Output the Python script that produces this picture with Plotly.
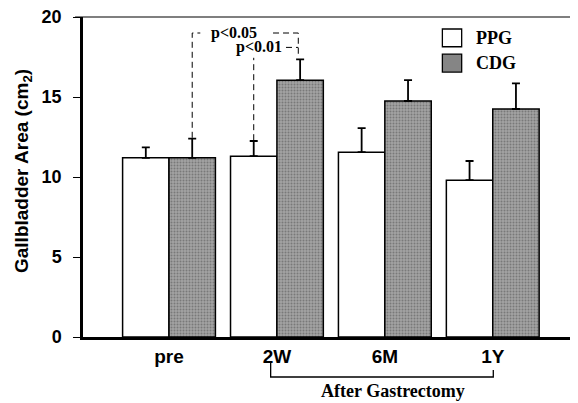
import plotly.graph_objects as go

categories = ["pre", "2W", "6M", "1Y"]
ppg_values = [11.2, 11.3, 11.55, 9.8]
ppg_err = [0.65, 0.95, 1.5, 1.2]
cdg_values = [11.2, 16.05, 14.75, 14.25]
cdg_err = [1.2, 1.3, 1.3, 1.6]
x_pos = [0, 1, 2, 3]

SANS = "Liberation Sans, Arial, sans-serif"
SERIF = "Liberation Serif, Times New Roman, serif"

fig = go.Figure()
fig.add_trace(go.Bar(
    x=x_pos, y=ppg_values, name="PPG",
    marker=dict(color="white", line=dict(color="black", width=1.5)),
    error_y=dict(type="data", symmetric=False, array=ppg_err,
                 arrayminus=[0] * 4, color="black", thickness=1.8, width=4),
    showlegend=False,
))
fig.add_trace(go.Bar(
    x=x_pos, y=cdg_values, name="CDG",
    marker=dict(color="#9c9c9c", line=dict(color="black", width=1.5),
                pattern=dict(shape=".", bgcolor="#a2a2a2", fgcolor="#505050",
                             size=3, solidity=0.35)),
    error_y=dict(type="data", symmetric=False, array=cdg_err,
                 arrayminus=[0] * 4, color="black", thickness=1.8, width=4),
    showlegend=False,
))

# the page adds an 8px body margin, so the figure is 8px smaller and margins compensated
fig.update_layout(
    width=570, height=395,
    margin=dict(l=75, r=0, t=9, b=66, autoexpand=False),
    paper_bgcolor="white", plot_bgcolor="white",
    barmode="group", bargap=0.14, bargroupgap=0,
    xaxis=dict(range=[-0.797, 3.79], tickvals=x_pos, ticktext=categories,
               showline=True, linecolor="black", linewidth=2.5,
               showgrid=False, zeroline=False, ticks="", automargin=False,
               ticklabeloverflow="allow",
               tickfont=dict(family=SANS, size=19, color="black", weight="bold")),
    yaxis=dict(range=[0, 20], tickvals=[0, 5, 10, 15, 20],
               showline=True, linecolor="black", linewidth=2.5,
               showgrid=False, zeroline=False, ticks="outside", ticklen=7,
               tickwidth=1.2, tickcolor="black", automargin=False,
               ticklabelstandoff=8, ticklabeloverflow="allow",
               tickfont=dict(family=SANS, size=18, color="black", weight="bold")),
)

# y-axis title
fig.add_annotation(x=-0.121, y=0.519, xref="paper", yref="paper",
                   text="Gallbladder Area (cm<sub>2</sub>)", textangle=-90,
                   showarrow=False, xanchor="center", yanchor="middle",
                   font=dict(family=SANS, size=19, color="black", weight="bold"))

# top frame line
fig.add_shape(type="line", xref="paper", yref="paper", x0=-0.016, x1=1, y0=1, y1=1,
              line=dict(color="black", width=1.2))

dash = dict(color="black", width=1, dash="6px,4px")
# p<0.05 connector
fig.add_shape(type="path", xref="x", yref="y",
              path="M 0.215 12.45 L 0.215 19.0 L 0.29 19.0", line=dash)
fig.add_shape(type="path", xref="x", yref="y",
              path="M 0.964 19.0 L 1.198 19.0 L 1.198 17.7", line=dash)
fig.add_annotation(x=0.37, y=19.0, xref="x", yref="y", text="p<0.05", showarrow=False,
                   xanchor="left", yanchor="middle",
                   font=dict(family=SERIF, size=16, color="black", weight="bold"))
# p<0.01 connector
fig.add_shape(type="line", xref="x", yref="y", x0=0.785, x1=0.785, y0=12.3, y1=17.45,
              line=dash)
fig.add_shape(type="line", xref="x", yref="y", x0=1.084, x1=1.198, y0=18.1, y1=18.1,
              line=dash)
fig.add_annotation(x=0.60, y=18.1, xref="x", yref="y", text="p<0.01", showarrow=False,
                   xanchor="left", yanchor="middle",
                   font=dict(family=SERIF, size=16, color="black", weight="bold"))

# legend
fig.add_shape(type="rect", xref="paper", yref="paper", x0=0.726, x1=0.765,
              y0=0.907, y1=0.9625, fillcolor="white", line=dict(color="black", width=1.3))
fig.add_shape(type="rect", xref="paper", yref="paper", x0=0.726, x1=0.765,
              y0=0.828, y1=0.884, fillcolor="#858585", line=dict(color="black", width=1.3))
fig.add_annotation(x=0.79, y=0.935, xref="paper", yref="paper", text="PPG", showarrow=False,
                   xanchor="left", yanchor="middle",
                   font=dict(family=SERIF, size=18, color="black", weight="bold"))
fig.add_annotation(x=0.79, y=0.856, xref="paper", yref="paper", text="CDG", showarrow=False,
                   xanchor="left", yanchor="middle",
                   font=dict(family=SERIF, size=18, color="black", weight="bold"))

# "After Gastrectomy" bracket
fig.add_shape(type="path", xref="x", yref="paper",
              path="M 0.942 -0.081 L 0.942 -0.125 L 3.005 -0.125 L 3.005 -0.103",
              line=dict(color="black", width=1.3))
fig.add_annotation(x=2.076, y=-0.17, xref="x", yref="paper",
                   text="After Gastrectomy", showarrow=False, yanchor="middle",
                   font=dict(family=SERIF, size=18, color="black", weight="bold"))

fig.write_html("out.html")
